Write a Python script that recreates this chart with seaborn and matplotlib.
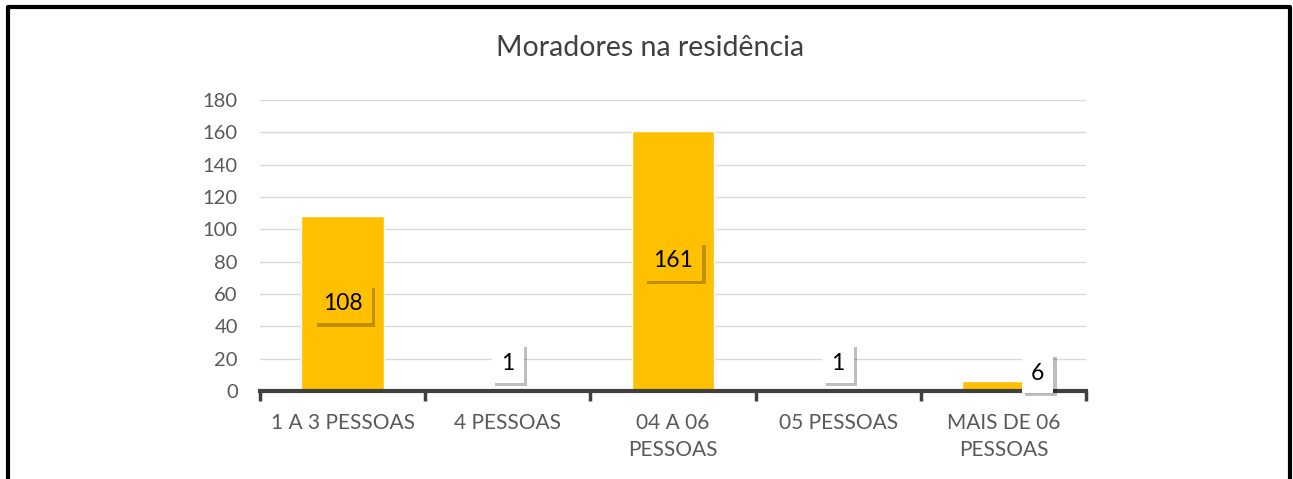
import matplotlib
matplotlib.use("Agg")
import matplotlib.pyplot as plt
import matplotlib.patheffects as pe
import seaborn as sns
import pandas as pd

categories = ["1 A 3 PESSOAS", "4 PESSOAS", "04 A 06\nPESSOAS", "05 PESSOAS", "MAIS DE 06\nPESSOAS"]
values = [108, 1, 161, 1, 6]
y_ticks = [0, 20, 40, 60, 80, 100, 120, 140, 160, 180]
title = "Moradores na residência"

# label offsets (pixels) from the bar's midpoint
label_offsets = [(0, 0), (0, 27), (0, 0), (0, 27), (34, 13)]

sns.set_theme(style="white")
plt.rcParams["font.family"] = ["Lato", "DejaVu Sans"]

df = pd.DataFrame({"cat": categories, "val": values})

fig = plt.figure(figsize=(12.93, 4.79), dpi=100)
ax = fig.add_axes([260 / 1293, 1 - 391 / 479, (1086 - 260) / 1293, (391 - 100) / 479])

sns.barplot(data=df, x="cat", y="val", color="#FFC000", width=0.5, saturation=1, ax=ax, zorder=3)

ax.set_ylim(0, 180)
ax.set_xlim(-0.5, len(categories) - 0.5)
ax.set_yticks(y_ticks)
ax.yaxis.grid(True, color="#D9D9D9", linewidth=1)
ax.set_axisbelow(True)
for s in ["left", "right", "top"]:
    ax.spines[s].set_visible(False)
ax.spines["bottom"].set_color("#404040")
ax.spines["bottom"].set_linewidth(3)
ax.spines["bottom"].set_zorder(5)
ax.set_xlabel("")
ax.set_ylabel("")
ax.tick_params(axis="y", length=0, pad=16, labelsize=14.5, labelcolor="#595959")
ax.tick_params(axis="x", which="major", length=0, pad=16, labelsize=15, labelcolor="#595959")
ax.set_xticks([i - 0.5 for i in range(len(categories) + 1)], minor=True)
ax.tick_params(axis="x", which="minor", bottom=True, length=7, width=2.5, color="#404040", direction="out")
for lab in ax.get_xticklabels():
    lab.set_linespacing(1.45)

fig.text(650 / 1293, 1 - 48 / 479, title, ha="center", va="center", fontsize=20.5, color="#404040")

for i, (v, off) in enumerate(zip(values, label_offsets)):
    inside = off == (0, 0)
    fc = "#FFC000" if inside else "white"
    t = ax.annotate(str(v), xy=(i, v / 2), xytext=off, textcoords="offset pixels",
                    ha="center", va="center", fontsize=16.5, color="black", zorder=6,
                    bbox=dict(boxstyle="square,pad=0.4", fc=fc, ec="none"))
    t.get_bbox_patch().set_path_effects([
        pe.SimplePatchShadow(offset=(2.5, -2.5), shadow_rgbFace="black", alpha=0.25),
        pe.Normal()])

# outer frame (left, top, right)
fig.add_artist(plt.Line2D([8 / 1293, 8 / 1293, 1290 / 1293, 1290 / 1293],
                          [0, 1 - 7 / 479, 1 - 7 / 479, 0],
                          transform=fig.transFigure, color="black", linewidth=3))

fig.savefig("out.png", dpi=100)
